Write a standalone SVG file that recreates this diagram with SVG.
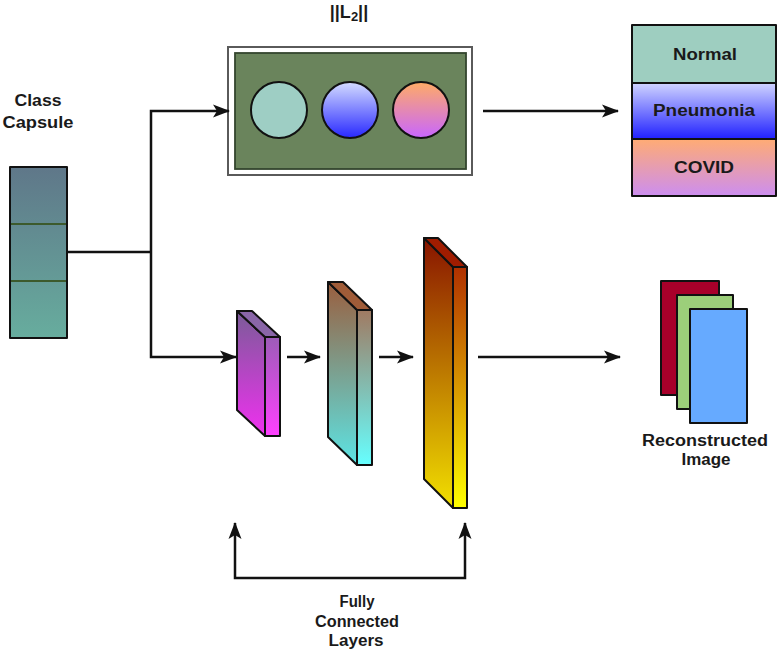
<svg xmlns="http://www.w3.org/2000/svg" width="780" height="653" viewBox="0 0 780 653">
<style>
.t{font-family:"Liberation Sans",Arial,sans-serif;font-weight:bold;font-size:16px;fill:#1a1a1a;text-anchor:middle}
.ln{fill:none;stroke:#111;stroke-width:2.5}
.bx{stroke:#111;stroke-width:2;stroke-linejoin:round}
</style>
<defs>
<marker id="ah" markerUnits="userSpaceOnUse" markerWidth="18" markerHeight="14" refX="16" refY="7" orient="auto-start-reverse">
<path d="M0,0.5 L17,7 L0,13.5 L4,7 z" fill="#111"/>
</marker>
<linearGradient id="gCap" x1="0" y1="0" x2="0" y2="1"><stop offset="0" stop-color="#5f7789"/><stop offset="1" stop-color="#67ad9e"/></linearGradient>
<linearGradient id="gBlue" x1="0" y1="0" x2="0" y2="1"><stop offset="0" stop-color="#d4dcff"/><stop offset="1" stop-color="#2828ff"/></linearGradient>
<linearGradient id="gCov" x1="0" y1="0" x2="0" y2="1"><stop offset="0" stop-color="#ffab66"/><stop offset="1" stop-color="#c866ff"/></linearGradient>
<linearGradient id="gPn" x1="0" y1="0" x2="0" y2="1"><stop offset="0" stop-color="#d0d4ff"/><stop offset="1" stop-color="#2020ff"/></linearGradient>
<linearGradient id="gCv" x1="0" y1="0" x2="0" y2="1"><stop offset="0" stop-color="#ffab74"/><stop offset="1" stop-color="#cc8ef0"/></linearGradient>
<linearGradient id="l1s" x1="0" y1="0" x2="0" y2="1"><stop offset="0" stop-color="#7a5c98"/><stop offset="1" stop-color="#f030f0"/></linearGradient>
<linearGradient id="l1f" x1="0" y1="0" x2="0" y2="1"><stop offset="0" stop-color="#9c5cb8"/><stop offset="1" stop-color="#ff40ff"/></linearGradient>
<linearGradient id="l2s" x1="0" y1="0" x2="0" y2="1"><stop offset="0" stop-color="#9a5e3e"/><stop offset="1" stop-color="#5ce4e4"/></linearGradient>
<linearGradient id="l2f" x1="0" y1="0" x2="0" y2="1"><stop offset="0" stop-color="#a07a62"/><stop offset="1" stop-color="#66ffff"/></linearGradient>
<linearGradient id="l3s" x1="0" y1="0" x2="0" y2="1"><stop offset="0" stop-color="#881400"/><stop offset="1" stop-color="#f2e000"/></linearGradient>
<linearGradient id="l3f" x1="0" y1="0" x2="0" y2="1"><stop offset="0" stop-color="#b03000"/><stop offset="1" stop-color="#ffff00"/></linearGradient>
</defs>
<rect width="780" height="653" fill="#fff"/>

<g id="class-capsule">
<rect x="10" y="167" width="57" height="171" fill="url(#gCap)" class="bx"/>
<line x1="11" y1="224" x2="66" y2="224" stroke="#3c5a2c" stroke-width="1.8"/>
<line x1="11" y1="281" x2="66" y2="281" stroke="#3c5a2c" stroke-width="1.8"/>
<text class="t" x="38" y="106" textLength="47" lengthAdjust="spacingAndGlyphs">Class</text>
<text class="t" x="38" y="128" textLength="71" lengthAdjust="spacingAndGlyphs">Capsule</text>
</g>

<g id="l2-norm">
<rect x="228" y="47" width="244" height="128" fill="#fff" stroke="#5a5a5a" stroke-width="2"/>
<rect x="235" y="53" width="231" height="116" fill="#6a845c" stroke="#34452e" stroke-width="1.8"/>
<circle cx="279" cy="110" r="28" fill="#9ecec4" class="bx"/>
<circle cx="350" cy="110" r="28" fill="url(#gBlue)" class="bx"/>
<circle cx="421" cy="110" r="28" fill="url(#gCov)" class="bx"/>
<text class="t" x="349" y="18" style="font-size:18px">||L<tspan style="font-size:13px" dy="3">2</tspan><tspan dy="-3">||</tspan></text>
</g>

<g id="output-classes">
<rect x="632" y="25" width="144" height="58" fill="#9ecec0" class="bx"/>
<rect x="632" y="83" width="144" height="56" fill="url(#gPn)" class="bx"/>
<rect x="632" y="139" width="144" height="57" fill="url(#gCv)" class="bx"/>
<text class="t" x="705" y="60" textLength="64" lengthAdjust="spacingAndGlyphs">Normal</text>
<text class="t" x="704" y="116" textLength="102" lengthAdjust="spacingAndGlyphs">Pneumonia</text>
<text class="t" x="704" y="173" textLength="60" lengthAdjust="spacingAndGlyphs">COVID</text>
</g>

<g id="fc-layer-1">
<polygon points="237,311 265,337 265,436 237,410" fill="url(#l1s)" class="bx"/>
<rect x="265" y="337" width="15" height="99" fill="url(#l1f)" class="bx"/>
<polygon points="237,311 252,311 280,337 265,337" fill="#8a66a8" class="bx"/>
</g>
<g id="fc-layer-2">
<polygon points="328,282 357,310 357,465 328,437" fill="url(#l2s)" class="bx"/>
<rect x="357" y="310" width="15" height="155" fill="url(#l2f)" class="bx"/>
<polygon points="328,282 343,282 372,310 357,310" fill="#a05c38" class="bx"/>
</g>
<g id="fc-layer-3">
<polygon points="424,238 453,267 453,508 424,479" fill="url(#l3s)" class="bx"/>
<rect x="453" y="267" width="14" height="241" fill="url(#l3f)" class="bx"/>
<polygon points="424,238 438,238 467,267 453,267" fill="#a01c00" class="bx"/>
</g>

<g id="reconstructed-image">
<rect x="661" y="281" width="58" height="114" fill="#a8002a" class="bx"/>
<rect x="677" y="295" width="56" height="114" fill="#9ccf7a" class="bx"/>
<rect x="690" y="309" width="57" height="114" fill="#66aaff" class="bx"/>
<text class="t" x="705" y="446" textLength="126" lengthAdjust="spacingAndGlyphs">Reconstructed</text>
<text class="t" x="706" y="465" textLength="49" lengthAdjust="spacingAndGlyphs">Image</text>
</g>

<g id="fc-label">
<text class="t" x="357" y="607" textLength="35" lengthAdjust="spacingAndGlyphs">Fully</text>
<text class="t" x="357" y="627" textLength="84" lengthAdjust="spacingAndGlyphs">Connected</text>
<text class="t" x="356" y="646" textLength="55" lengthAdjust="spacingAndGlyphs">Layers</text>
</g>

<g id="connectors">
<path class="ln" d="M67,252 H151"/>
<path class="ln" d="M151,252 V111 H229" marker-end="url(#ah)"/>
<path class="ln" d="M151,252 V357 H236" marker-end="url(#ah)"/>
<path class="ln" d="M483,111 H618" marker-end="url(#ah)"/>
<path class="ln" d="M287,357 H320" marker-end="url(#ah)"/>
<path class="ln" d="M379,357 H413" marker-end="url(#ah)"/>
<path class="ln" d="M478,357 H620" marker-end="url(#ah)"/>
<path class="ln" d="M235,523 V578 H465 V523" marker-start="url(#ah)" marker-end="url(#ah)"/>
</g>
</svg>
